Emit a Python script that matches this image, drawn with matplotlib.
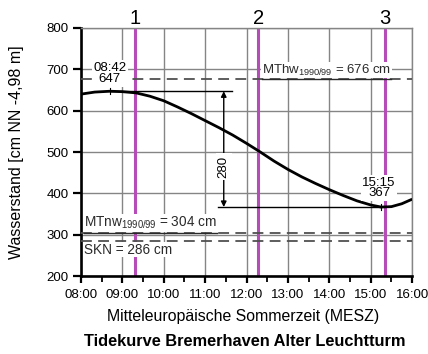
import matplotlib
matplotlib.use("Agg")
import matplotlib.pyplot as plt
import matplotlib.transforms as mtransforms
from matplotlib.ticker import FixedLocator

plt.rcParams['font.family'] = ['Liberation Sans', 'DejaVu Sans']
plt.rcParams['mathtext.fontset'] = 'custom'
plt.rcParams['mathtext.rm'] = 'Liberation Sans'
plt.rcParams['mathtext.it'] = 'Liberation Sans:italic'
plt.rcParams['mathtext.bf'] = 'Liberation Sans:bold'

# Water level readings (MESZ, cm above NN -4.98 m)
times = ["08:00", "08:20", "08:42", "09:00", "09:20", "09:40", "10:00", "10:20",
         "10:40", "11:00", "11:20", "11:40", "12:00", "12:20", "12:40", "13:00",
         "13:20", "13:40", "14:00", "14:20", "14:40", "15:00", "15:15", "15:30",
         "15:45", "16:00"]
levels = [640, 645, 647, 646, 643, 635, 624, 609,
          593, 576, 559, 541, 521, 500, 478, 458,
          440, 424, 409, 395, 382, 372, 367, 368,
          375, 386]

hw_time, hw_level = "08:42", 647
lw_time, lw_level = "15:15", 367
tidal_range = hw_level - lw_level

mthw = 676
mtnw = 304
skn = 286

marker_times = ["09:18", "12:17", "15:20"]
marker_labels = ["1", "2", "3"]

hour_labels = ["08:00", "09:00", "10:00", "11:00", "12:00", "13:00", "14:00",
               "15:00", "16:00"]
y_ticks = [200, 300, 400, 500, 600, 700, 800]


def hours(t):
    hh, mm = t.split(":")
    return int(hh) + int(mm) / 60.0


x = [hours(t) for t in times]
grid_col = "#858585"
magenta = "#b64cb8"
dash_col = "#505050"
text_col = "#2a2a2a"

fig = plt.figure(figsize=(4.28, 3.54), dpi=100)
ax = fig.add_axes([0.189, 0.220, 0.774, 0.701])

ax.set_xlim(8, 16)
ax.set_ylim(200, 800)
ax.set_xticks([hours(t) for t in hour_labels])
ax.set_xticklabels(hour_labels)
ax.xaxis.set_minor_locator(FixedLocator([h + 0.5 for h in range(8, 16)]))
ax.set_yticks(y_ticks)
ax.grid(True, which="major", color=grid_col, lw=1.0, zorder=0)

for side in ("left", "bottom"):
    ax.spines[side].set_linewidth(1.9)
    ax.spines[side].set_color("black")
for side in ("top", "right"):
    ax.spines[side].set_linewidth(1.0)
    ax.spines[side].set_color(grid_col)

ax.tick_params(axis="y", direction="out", length=6, width=1.6, pad=3,
               labelsize=9.5)
ax.tick_params(axis="x", which="major", direction="out", length=5, width=1.6,
               pad=4, labelsize=9.5)
ax.tick_params(axis="x", which="minor", direction="out", length=4, width=1.3)

# reference time lines 1-3
top = mtransforms.blended_transform_factory(ax.transData, ax.transAxes)
for t, lab in zip(marker_times, marker_labels):
    ax.axvline(hours(t), color=magenta, lw=2.2, zorder=2)
    ax.text(hours(t), 1.0, lab, transform=top, ha="center", va="bottom",
            fontsize=14.5)

# mean high / low water and chart datum
for v in (mthw, mtnw, skn):
    ax.axhline(v, color=dash_col, lw=1.3, dashes=(6, 3.5), zorder=3)

# tide curve
ax.plot(x, levels, color="black", lw=2.0, zorder=6, solid_capstyle="butt")
ax.plot([hours(hw_time)] * 2, [hw_level - 7, hw_level + 7], color="black",
        lw=0.8, zorder=6)
ax.plot([hours(lw_time)] * 2, [lw_level - 7, lw_level + 7], color="black",
        lw=0.8, zorder=6)

# tidal range
arrow_x = 11.45
ax.plot([hours(hw_time), 11.65], [hw_level, hw_level], color="black", lw=1.0,
        zorder=4)
ax.plot([11.31, hours(lw_time)], [lw_level, lw_level], color="black", lw=1.0,
        zorder=4)
ax.annotate("", xy=(arrow_x, hw_level), xytext=(arrow_x, lw_level),
            arrowprops=dict(arrowstyle="<|-|>", color="black", lw=1.0,
                            mutation_scale=8, shrinkA=0, shrinkB=0),
            zorder=5)
ax.text(arrow_x, 465, str(tidal_range), rotation=90, ha="center", va="center",
        fontsize=9.5, zorder=7,
        bbox=dict(boxstyle="square,pad=0.15", fc="white", ec="none"))

box = dict(boxstyle="square,pad=0.1", fc="white", ec="none")
ax.text(hours(hw_time), 690, "%s\n%d" % (hw_time, hw_level), ha="center",
        va="center", fontsize=9.5, linespacing=0.95, zorder=7, bbox=box)
ax.text(hours(lw_time) - 0.05, 413, "%s\n%d" % (lw_time, lw_level),
        ha="center", va="center", fontsize=9.5, linespacing=0.85, zorder=7,
        bbox=box)

# level labels, underlined
tb = dict(boxstyle="square,pad=0.05", fc="white", ec="none")
t_hw = ax.text(12.37, mthw + 4, r"MThw$_{\mathrm{1990/99}}$ = %d cm" % mthw,
               ha="left", va="bottom", fontsize=9.5, color=text_col,
               zorder=7, bbox=tb)
t_nw = ax.text(8.07, mtnw + 4, r"MTnw$_{\mathrm{1990/99}}$ = %d cm" % mtnw,
               ha="left", va="bottom", fontsize=9.8, color=text_col,
               zorder=7, bbox=tb)
t_skn = ax.text(8.07, skn - 5, "SKN = %d cm" % skn, ha="left", va="top",
                fontsize=9.8, color=text_col, zorder=7, bbox=tb)

fig.canvas.draw()
renderer = fig.canvas.get_renderer()
inv = ax.transData.inverted()
for t, v in ((t_hw, mthw), (t_nw, mtnw)):
    bb = t.get_window_extent(renderer)
    (x0, _), (x1, _) = inv.transform([[bb.x0, 0], [bb.x1, 0]])
    ax.plot([x0, x1], [v, v], color=text_col, lw=1.0, zorder=8)

ax.set_ylabel("Wasserstand [cm NN -4,98 m]", fontsize=11.5)
ax.yaxis.set_label_coords(-0.172, 0.5)
fig.text(0.569, 1 - 316 / 354, "Mitteleuropäische Sommerzeit (MESZ)",
         ha="center", va="center", fontsize=11.4)
fig.text(0.571, 1 - 341 / 354, "Tidekurve Bremerhaven Alter Leuchtturm",
         ha="center", va="center", fontsize=11.8, fontweight="bold")

fig.savefig("out.png", dpi=100)
